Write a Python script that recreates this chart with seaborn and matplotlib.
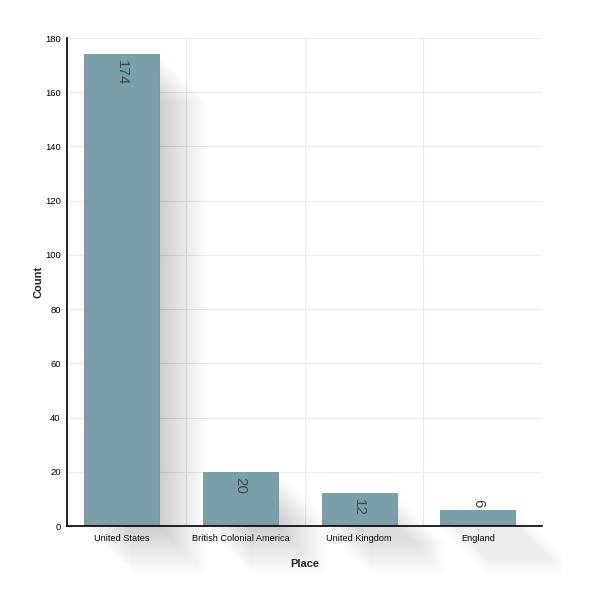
import matplotlib
matplotlib.use("Agg")
import matplotlib.pyplot as plt
import matplotlib.transforms as mtransforms
from matplotlib.patches import Polygon
import seaborn as sns
import pandas as pd

places = ["United States", "British Colonial America", "United Kingdom", "England"]
counts = [174, 20, 12, 6]
yticks = [0, 20, 40, 60, 80, 100, 120, 140, 160, 180]

sns.set_theme(style="white")
plt.rcParams['font.family'] = ['Liberation Sans', 'DejaVu Sans']

df = pd.DataFrame({"Place": places, "Count": counts})

fig = plt.figure(figsize=(5.9, 6.01), dpi=100)
ax = fig.add_axes([67/590, 1-526/601, 475/590, 488/601])

bar_color = "#7a9fa8"
sns.barplot(data=df, x="Place", y="Count", color=bar_color, saturation=1,
            width=0.632, ax=ax, zorder=3, edgecolor="#7195a0", linewidth=0.6)

# soft diagonal shadows
N = 50
D = 48  # pixels
for p in ax.patches:
    x0, y0 = p.get_x(), p.get_y()
    w, h = p.get_width(), p.get_height()
    corners = [(x0, y0), (x0 + w, y0), (x0 + w, y0 + h), (x0, y0 + h)]
    for i in range(1, N + 1):
        t = D * i / N
        tr = ax.transData + mtransforms.Affine2D().translate(t, -t)
        poly = Polygon(corners, closed=True, transform=tr, facecolor="#8e999f",
                       edgecolor="none", alpha=0.005, zorder=2, clip_on=False)
        ax.add_patch(poly)

off = 0.04
ax.set_xlim(-0.5 + off, len(places) - 0.5 + off)
ax.set_ylim(0, 180)
ax.set_yticks(yticks)

# grid
for yv in yticks[1:]:
    ax.axhline(yv, color="#ebebeb", lw=0.8, zorder=1)
for xv in [0.5, 1.5, 2.5, 3.5]:
    ax.axvline(xv + off, color="#ebebeb", lw=0.8, zorder=1)

for s in ["top", "right"]:
    ax.spines[s].set_visible(False)
for s in ["left", "bottom"]:
    ax.spines[s].set_color("black")
    ax.spines[s].set_linewidth(1.2)
    ax.spines[s].set_zorder(4)

ax.tick_params(axis="x", length=0, labelsize=6.6, colors="black", pad=6)
ax.tick_params(axis="y", length=0, labelsize=6.8, colors="black", pad=4.5)
ax.set_xlabel("Place", fontsize=8, fontweight="bold", labelpad=11)
ax.set_ylabel("Count", fontsize=8, fontweight="bold", labelpad=1)

# value labels
for i, v in enumerate(counts):
    if v >= 10:
        ax.annotate(str(v), (i, v), xytext=(0, -4), textcoords="offset points",
                    ha="center", va="top", rotation=270, fontsize=11,
                    color="#3d4a4f", zorder=5)
    else:
        ax.annotate(str(v), (i, v), xytext=(0, 1.5), textcoords="offset points",
                    ha="center", va="bottom", rotation=270, fontsize=11,
                    color="#3d4a4f", zorder=5)

fig.savefig("out.png", dpi=100, facecolor="white")
